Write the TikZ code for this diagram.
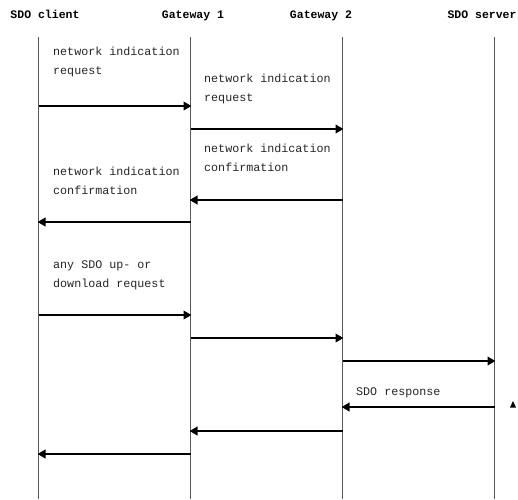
\documentclass[tikz,border=0pt]{standalone}
\usepackage{fontspec}
\setmonofont{Liberation Mono}
\usetikzlibrary{arrows.meta}
\begin{document}
\begin{tikzpicture}[x=1pt,y=-1pt,
  header/.style={font=\ttfamily\bfseries\fontsize{11.5}{14}\selectfont, inner sep=0pt, anchor=base},
  msglabel/.style={font=\ttfamily\fontsize{11.7}{19}\selectfont, text=black!85, inner sep=0pt, anchor=base west, align=left},
  lifeline/.style={draw=black!65, line width=0.8pt},
  msg/.style={draw=black, line width=2pt, -{Triangle[length=8pt,width=8.5pt]}, shorten >=-1pt}]
\useasboundingbox (0,0) rectangle (518,499);

% participants
\node[header] (hc)  at (45,18.5)  {SDO client};
\node[header] (hg1) at (193,18.5) {Gateway 1};
\node[header] (hg2) at (321,18.5) {Gateway 2};
\node[header] (hs)  at (482,18.5) {SDO server};

% lifelines
\coordinate (c)  at (38.5,37);  \coordinate (cb)  at (38.5,499);
\coordinate (g1) at (190.5,37); \coordinate (g1b) at (190.5,499);
\coordinate (g2) at (342.5,37); \coordinate (g2b) at (342.5,499);
\coordinate (s)  at (494.5,37); \coordinate (sb)  at (494.5,499);
\draw[lifeline] (c) -- (cb);
\draw[lifeline] (g1) -- (g1b);
\draw[lifeline] (g2) -- (g2b);
\draw[lifeline] (s) -- (sb);

% message rows
\coordinate (r1) at (0,106);
\coordinate (r2) at (0,129);
\coordinate (r3) at (0,200);
\coordinate (r4) at (0,222);
\coordinate (r5) at (0,315);
\coordinate (r6) at (0,338);
\coordinate (r7) at (0,361);
\coordinate (r8) at (0,407);
\coordinate (r9) at (0,431);
\coordinate (r10) at (0,454);

% messages
\draw[msg] (c |- r1) -- (g1 |- r1);
\draw[msg] (g1 |- r2) -- (g2 |- r2);
\draw[msg] (g2 |- r3) -- (g1 |- r3);
\draw[msg] (g1 |- r4) -- (c |- r4);
\draw[msg] (c |- r5) -- (g1 |- r5);
\draw[msg] (g1 |- r6) -- (g2 |- r6);
\draw[msg] (g2 |- r7) -- (s |- r7);
\draw[msg] (s |- r8) -- (g2 |- r8);
\draw[msg] (g2 |- r9) -- (g1 |- r9);
\draw[msg] (g1 |- r10) -- (c |- r10);

% labels
\node[msglabel] (l1) at (53,74)   {network indication\\request};
\node[msglabel] (l2) at (204,101) {network indication\\request};
\node[msglabel] (l3) at (204,171) {network indication\\confirmation};
\node[msglabel] (l4) at (53,194)  {network indication\\confirmation};
\node[msglabel] (l5) at (53,287)  {any SDO up- or\\download request};
\node[msglabel] (l8) at (356,395) {SDO response};

% small marker beside the server lifeline
\fill[black] (510,407.5) -- (516,407.5) -- (513,401) -- cycle;
\end{tikzpicture}
\end{document}
